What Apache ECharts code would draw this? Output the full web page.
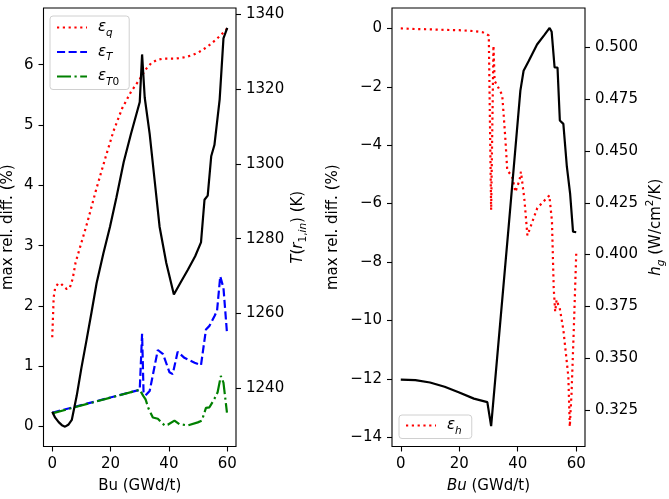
<!DOCTYPE html>
<html>
<head>
<meta charset="utf-8">
<script src="https://cdn.jsdelivr.net/npm/echarts@6/dist/echarts.min.js"></script>
<style>
  html, body { margin: 0; padding: 0; background: #fff; }
  #main { width: 669px; height: 499px; }
</style>
</head>
<body>
<div id="main"></div>
<script>
// 左图: 相对偏差 (%) 与 T(r1,in)
var buQ = [0, 0.5, 1, 2, 3, 4, 5, 6, 7, 8, 10, 12, 15, 18, 21, 24, 27, 30, 32, 34, 36, 38, 40, 42, 44, 46, 48, 50, 52, 54, 56, 58, 60];
var epsQ = [1.48, 2.15, 2.3, 2.37, 2.37, 2.32, 2.28, 2.3, 2.45, 2.72, 3.05, 3.38, 3.92, 4.42, 4.9, 5.28, 5.55, 5.76, 5.92, 6.03, 6.08, 6.1, 6.1, 6.1, 6.11, 6.13, 6.16, 6.2, 6.26, 6.33, 6.41, 6.5, 6.6];

var buT = [0, 30, 30.8, 31.3, 32, 33.4, 36.2, 38, 40.2, 41.3, 43, 45.3, 48.8, 51, 52.7, 53.9, 55.6, 56.5, 57.6, 58.7, 59.9];
var epsT = [0.23, 0.61, 1.54, 0.57, 0.52, 0.59, 1.27, 1.2, 0.9, 0.87, 1.24, 1.14, 1.06, 1.02, 1.61, 1.67, 1.83, 1.92, 2.49, 2.3, 1.56];

var buT0 = [0, 30, 30.6, 31.2, 32, 33, 34.5, 36.2, 38.5, 39.6, 41.9, 43.6, 46.5, 49.9, 51.3, 52.7, 53.9, 55.6, 56.7, 57.8, 58.7, 59.9];
var epsT0 = [0.22, 0.61, 0.59, 0.51, 0.45, 0.3, 0.15, 0.13, 0.02, 0.03, 0.1, 0.04, 0.02, 0.07, 0.1, 0.31, 0.32, 0.46, 0.57, 0.84, 0.73, 0.23];

var buTemp = [0, 1, 2.2, 3.3, 4.4, 5.5, 6.7, 8.4, 10, 11.8, 13.5, 15.2, 17.5, 19.8, 22, 24.5, 27, 30, 30.8, 31.7, 33.4, 35.1, 36.8, 39.1, 41.7, 44, 46.5, 49, 51, 52.2, 53.3, 54.5, 55.6, 57.4, 58.7, 60];
var tempIn = [1233.8, 1232.2, 1231.0, 1230.2, 1229.8, 1230.3, 1231.6, 1238.1, 1245.5, 1253.1, 1260.5, 1268.1, 1276, 1283.2, 1291, 1300.5, 1308, 1316.5, 1329.2, 1317.7, 1308, 1295.6, 1283.2, 1273.5, 1265.1, 1268.3, 1271.7, 1275.3, 1279, 1290.4, 1291.5, 1302, 1305, 1317.2, 1333.5, 1336.3];

// 右图: εh 与 hg
var buH = [0, 5, 10, 15, 20, 25, 28, 30.1, 30.9, 31.7, 32.1, 33.5, 34.7, 35.8, 36.4, 38.1, 39.2, 40.6, 41.1, 42.3, 43.3, 46.7, 50.8, 51.7, 52.3, 52.8, 53.3, 53.8, 54.3, 55.6, 57.3, 57.8, 58.4, 59.2, 60];
var epsH = [0, -0.02, -0.03, -0.05, -0.06, -0.09, -0.13, -0.24, -6.22, -0.59, -1.8, -2.05, -2.29, -3.83, -4.85, -5.08, -5.6, -5.2, -4.91, -5.88, -7.09, -6.15, -5.72, -6.6, -8.9, -9.7, -9.3, -9.45, -9.55, -10.32, -11.92, -13.64, -12.49, -10.21, -7.72];

var buHg = [0, 5, 10, 15, 20, 25, 29.6, 30.9, 36.9, 40.9, 42, 43.8, 46.6, 49, 50.9, 51.6, 52.6, 53.6, 54.4, 55.6, 56.8, 57.9, 58.9, 60];
var hg = [0.3397, 0.3394, 0.3383, 0.3362, 0.3335, 0.3305, 0.3288, 0.3172, 0.4136, 0.4791, 0.4887, 0.4935, 0.5014, 0.5058, 0.5094, 0.5075, 0.4903, 0.4903, 0.4647, 0.4631, 0.4424, 0.4296, 0.4111, 0.4108];

// 刻度
var xTicks = [0, 20, 40, 60];
var diffTicks = [0, 1, 2, 3, 4, 5, 6];
var tempTicks = [1240, 1260, 1280, 1300, 1320, 1340];
var diffTicks2 = [-14, -12, -10, -8, -6, -4, -2, 0];
var hgTicks = [0.325, 0.35, 0.375, 0.4, 0.425, 0.45, 0.475, 0.5];

var FONT = 'DejaVu Sans';
var LW = 2.2;

function zip(xs, ys) {
  return xs.map(function(x, i) { return [x, ys[i]]; });
}
function minus(v) {
  return String(v).replace('-', '\u2212');
}

var rich = {
  n: { fontFamily: FONT, fontSize: 15, color: '#000', lineHeight: 22, verticalAlign: 'middle' },
  i: { fontFamily: FONT, fontSize: 15, color: '#000', fontStyle: 'italic', lineHeight: 22, verticalAlign: 'middle' },
  s: { fontFamily: FONT, fontSize: 10.5, color: '#000', fontStyle: 'italic', lineHeight: 13, verticalAlign: 'bottom' },
  su: { fontFamily: FONT, fontSize: 10.5, color: '#000', lineHeight: 13, verticalAlign: 'bottom' },
  sp: { fontFamily: FONT, fontSize: 10.5, color: '#000', lineHeight: 13, verticalAlign: 'top' }
};

function xAxisCfg(gi, name) {
  return {
    type: 'value', gridIndex: gi, min: -3, max: 63,
    name: name, nameLocation: 'middle', nameGap: 29,
    nameTextStyle: { fontFamily: FONT, fontSize: 15, color: '#000', rich: rich },
    axisLine: { show: false, onZero: false },
    axisTick: { show: true, length: 5, lineStyle: { color: '#000', width: 1.1 }, customValues: xTicks },
    axisLabel: { margin: 10, fontFamily: FONT, fontSize: 15, color: '#000', customValues: xTicks },
    splitLine: { show: false }
  };
}

function yAxisCfg(gi, pos, min, max, ticks, fmt, name, gap) {
  return {
    type: 'value', gridIndex: gi, position: pos, min: min, max: max,
    name: name, nameLocation: 'middle', nameGap: gap, nameRotate: 90,
    nameTextStyle: { fontFamily: FONT, fontSize: 15, color: '#000', rich: rich },
    axisLine: { show: false, onZero: false },
    axisTick: { show: true, length: 5, lineStyle: { color: '#000', width: 1.1 }, customValues: ticks },
    axisLabel: { margin: 10, fontFamily: FONT, fontSize: 15, color: '#000', customValues: ticks, formatter: fmt },
    splitLine: { show: false }
  };
}

function line(name, xi, yi, data, color, type, z) {
  return {
    name: name, type: 'line', xAxisIndex: xi, yAxisIndex: yi,
    data: data, showSymbol: false, symbol: 'none', animation: false, z: z,
    lineStyle: { color: color, width: LW, type: type, cap: 'butt' },
    itemStyle: { color: color }
  };
}

var legendNames = { 'εq': '{i|ε}{s|q}', 'εT': '{i|ε}{s|T}', 'εT0': '{i|ε}{s|T}{su|0}', 'εh': '{i|ε}{s|h}' };

var myChart = echarts.init(document.getElementById('main'));

var option = {
  backgroundColor: '#fff',
  animation: false,
  grid: [
    { left: 43, right: 433, top: 8, bottom: 50, show: true, borderColor: '#000', borderWidth: 1.1, backgroundColor: 'transparent' },
    { left: 392, right: 84, top: 8, bottom: 50, show: true, borderColor: '#000', borderWidth: 1.1, backgroundColor: 'transparent' }
  ],
  legend: [
    {
      data: ['εq', 'εT', 'εT0'], orient: 'vertical', left: 50, top: 16,
      itemWidth: 30, itemHeight: 14, itemGap: 6, padding: [4, 10, 2, 6],
      itemStyle: { opacity: 0 },
      borderColor: '#d0d0d0', borderWidth: 1, borderRadius: 3, backgroundColor: 'rgba(255,255,255,0.8)',
      formatter: function(n) { return legendNames[n]; },
      textStyle: { rich: rich, padding: [0, 0, 0, 6] }
    },
    {
      data: ['εh'], orient: 'vertical', left: 399, top: 415,
      itemWidth: 30, itemHeight: 14, padding: [3, 10, 2, 6],
      itemStyle: { opacity: 0 },
      borderColor: '#d0d0d0', borderWidth: 1, borderRadius: 3, backgroundColor: 'rgba(255,255,255,0.8)',
      formatter: function(n) { return legendNames[n]; },
      textStyle: { rich: rich, padding: [0, 0, 0, 6] }
    }
  ],
  xAxis: [
    xAxisCfg(0, '{n|Bu (GWd/t)}'),
    xAxisCfg(1, '{i|Bu}{n| (GWd/t)}')
  ],
  yAxis: [
    yAxisCfg(0, 'left', -0.33, 6.94, diffTicks, function(v) { return minus(v); }, '{n|max rel. diff. (%)}', 24),
    yAxisCfg(0, 'right', 1224.5, 1341.6, tempTicks, function(v) { return String(v); }, '{i|T}{n|(}{i|r}{su|1,}{s|in}{n|) (K)}', 51),
    yAxisCfg(1, 'left', -14.32, 0.7, diffTicks2, function(v) { return minus(v); }, '{n|max rel. diff. (%)}', 48),
    yAxisCfg(1, 'right', 0.3074, 0.519, hgTicks, function(v) { return v.toFixed(3); }, '{i|h}{s|g}{n| (W/cm}{sp|2}{n|/K)}', 60)
  ],
  series: [
    line('εq', 0, 0, zip(buQ, epsQ), '#ff0000', [2.2, 3.6], 2),
    line('εT', 0, 0, zip(buT, epsT), '#0000ff', [8.1, 3.5], 3),
    line('εT0', 0, 0, zip(buT0, epsT0), '#008000', [14, 3.5, 2.2, 3.5], 4),
    line('T', 0, 1, zip(buTemp, tempIn), '#000000', 'solid', 5),
    line('εh', 1, 2, zip(buH, epsH), '#ff0000', [2.2, 3.6], 2),
    line('hg', 1, 3, zip(buHg, hg), '#000000', 'solid', 5)
  ]
};

myChart.setOption(option);
</script>
</body>
</html>
